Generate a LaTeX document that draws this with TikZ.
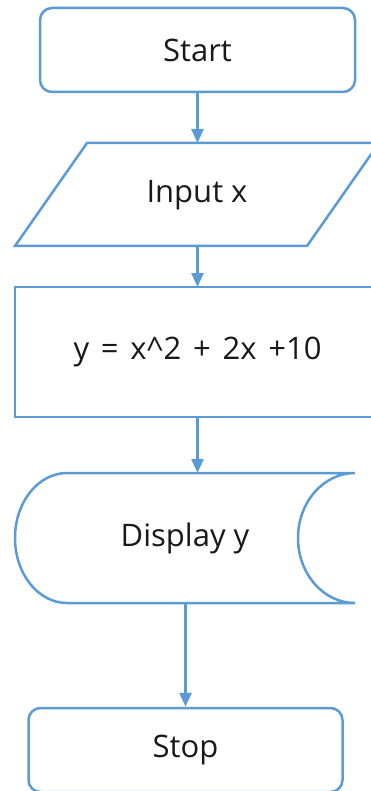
\documentclass[tikz,border=0pt]{standalone}
\usepackage{fontspec}
\setmainfont{Open Sans}
\usetikzlibrary{arrows.meta}
\definecolor{fc}{HTML}{5B9BD5}
\begin{document}
\begin{tikzpicture}[x=1pt,y=-1pt,
  shapeline/.style={draw=fc,line width=2.5pt},
  conn/.style={draw=fc,line width=2.5pt,-{Triangle[width=12pt,length=14pt]}},
  lbl/.style={font=\fontsize{31}{36}\selectfont,text=black!90,inner sep=0pt},
  term/.style={shapeline,rounded corners=12pt,minimum width=315pt,minimum height=84pt,lbl}]
\useasboundingbox (0,0) rectangle (371,791);
\clip (0,0) rectangle (371,791);
% Start
\node[term] (start) at (197.5,50) {Start};
% Input parallelogram
\draw[shapeline] (87,143) -- (379,143) -- (307,246) -- (15,246) -- cycle;
\node[lbl] (input) at (197,195) {Input x};
\coordinate (inT) at (197.5,143);
\coordinate (inB) at (197.5,246);
% Process
\draw[shapeline] (15,287) rectangle (380,417);
\node[lbl] (proc) at (197.5,352) {\spaceskip=0.38em y = x\^{}2 + 2x +10};
\coordinate (prT) at (197.5,287);
\coordinate (prB) at (197.5,417);
% Display
\draw[shapeline] (355,473) -- (67,473) arc(270:90:52 and 65) -- (355,603) arc(90:270:57 and 65);
\node[lbl] (disp) at (185,538) {Display y};
\coordinate (diT) at (197.5,473);
\coordinate (diB) at (185.5,603);
% Stop
\node[term,minimum width=314pt] (stop) at (185.5,750) {Stop};
% connectors
\draw[conn] (start.south) -- (inT);
\draw[conn] (inB) -- (prT);
\draw[conn] (prB) -- (diT);
\draw[conn] (diB) -- (stop.north);
\end{tikzpicture}
\end{document}
